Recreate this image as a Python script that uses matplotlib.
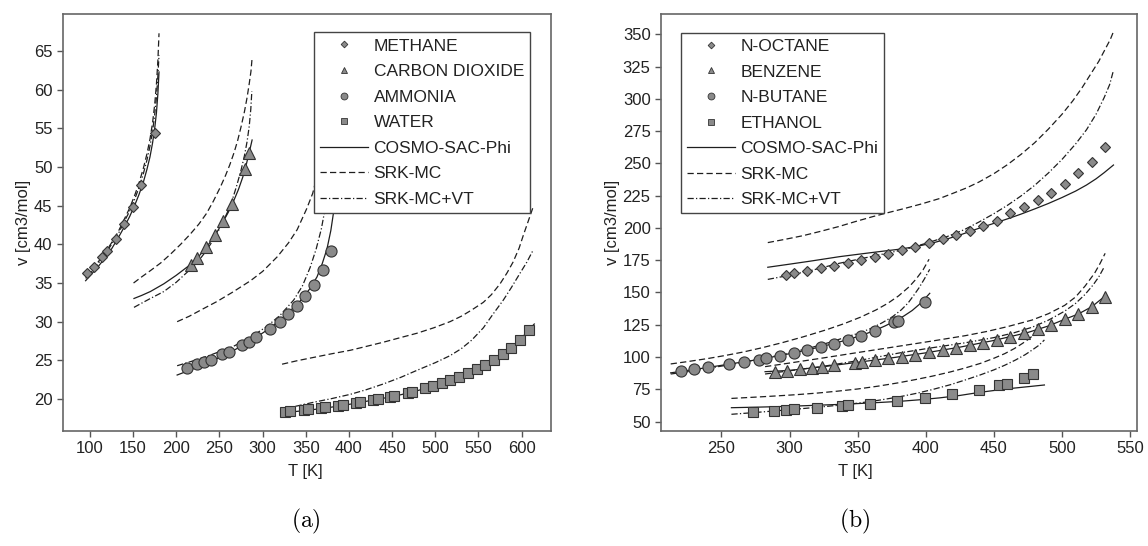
import numpy as np
import matplotlib.pyplot as plt
from matplotlib.lines import Line2D

plt.rcParams['font.family'] = ['Liberation Sans', 'DejaVu Sans']
plt.rcParams['mathtext.fontset'] = 'cm'

# ---------------- panel (a) ----------------
methane_exp = [(96.2, 36.25), (104.6, 37.1), (114.3, 38.4), (119.3, 39.2), (129.7, 40.7),
               (139.3, 42.6), (149.4, 44.8), (159.4, 47.7), (174.8, 54.4)]
methane_cosmo = [(95, 35.3), (103, 36.3), (110, 37.2), (118, 38.3), (125, 39.4), (133, 40.9),
                 (140, 42.3), (146, 43.6), (152, 45.1), (157, 46.5), (162, 48.1), (166, 49.7),
                 (169.5, 51.3), (172.5, 53.1), (175, 55.0), (177, 57.0), (178.7, 59.5), (180, 62.3)]
methane_srk = [(95, 35.8), (103, 36.8), (110, 37.8), (118, 39.0), (125, 40.2), (133, 41.7),
               (140, 43.3), (146, 44.7), (152, 46.4), (157, 48.0), (162, 49.9), (166, 51.7),
               (169.5, 53.6), (172.5, 55.7), (175, 58.1), (177, 60.7), (178.7, 63.8), (180, 67.3)]
methane_vt = [(95, 35.6), (103, 36.6), (110, 37.6), (118, 38.8), (125, 40.0), (133, 41.4),
              (140, 43.0), (146, 44.3), (152, 45.9), (157, 47.4), (162, 49.2), (166, 50.9),
              (169.5, 52.7), (172.5, 54.6), (175, 56.8), (177, 59.0), (178.7, 61.8), (180, 64.5)]

co2_exp = [(216.5, 37.33), (224.2, 38.3), (234.4, 39.7), (244.4, 41.2), (254.4, 43.0),
           (264.4, 45.2), (279.3, 49.7), (284.7, 51.85)]
co2_cosmo = [(151, 33.0), (160, 33.4), (170, 33.9), (185.6, 34.9), (200, 36.0), (216.5, 37.4),
             (225, 38.3), (234, 39.5), (244, 41.0), (254, 42.9), (260, 44.1), (266, 45.5),
             (272, 47.1), (277, 48.7), (281, 50.3), (284.5, 51.9), (287.8, 53.5)]
co2_srk = [(150.5, 35.0), (160, 35.8), (170, 36.6), (182, 37.6), (193, 38.7), (205, 40.0),
           (216, 41.3), (226, 42.6), (235, 44.0), (243, 45.6), (251, 47.4), (257, 48.9),
           (262, 50.3), (267, 51.9), (271, 53.4), (275, 55.2), (279, 57.2), (282, 59.0),
           (284.5, 60.8), (286.5, 62.4), (287.8, 64.1)]
co2_vt = [(151, 31.85), (160, 32.4), (170, 33.0), (185.6, 33.9), (200, 35.1), (216.5, 36.8),
          (226, 37.9), (235, 39.2), (244, 40.8), (252, 42.4), (259, 44.1), (265, 45.8),
          (270, 47.6), (275, 49.6), (279, 51.5), (282, 53.3), (284.5, 55.3), (286.3, 57.5),
          (287.5, 59.8)]

ammonia_exp = [(212.6, 23.97), (224.2, 24.5), (232.6, 24.8), (240.4, 25.0), (253.1, 25.8),
               (260.8, 26.1), (276.2, 27.0), (283.9, 27.4), (292.8, 28.0), (308.2, 29.1),
               (319.7, 30.0), (329.4, 30.95), (339.8, 32.0), (349.4, 33.3), (359.9, 34.8),
               (369.5, 36.7), (379.5, 39.1)]
ammonia_cosmo = [(201, 23.1), (215, 23.7), (230, 24.4), (245, 25.1), (260, 25.9), (275, 26.8),
                 (290, 27.8), (305, 28.9), (318, 30.0), (330, 31.2), (343.7, 32.7), (355, 34.3),
                 (363, 35.8), (369, 37.5), (374.5, 39.4), (379, 41.8), (383.3, 45.0), (386, 47.8),
                 (388.5, 51.0)]
ammonia_srk = [(201, 30.0), (215, 30.7), (230, 31.6), (247, 32.6), (265, 33.8), (286, 35.3),
               (300, 36.5), (317, 38.4), (330, 40.2), (340, 41.9), (351, 44.6), (358, 46.6),
               (364, 49.3), (369, 52.5)]
ammonia_vt = [(201, 24.3), (220, 24.95), (240, 25.7), (266, 26.8), (285, 27.9), (305, 29.4),
              (320, 30.8), (336, 32.8), (346, 34.6), (355, 37.0), (362, 39.4), (368, 42.0),
              (373, 45.0), (377, 48.5), (380, 52.0)]

water_exp = [(326.3, 18.36), (332.1, 18.45), (347.5, 18.58), (352.1, 18.67), (367.6, 18.83),
             (372.6, 18.92), (387.3, 19.09), (392.6, 19.18), (408.1, 19.44), (412.7, 19.57),
             (428.1, 19.87), (433.1, 20.0), (447.8, 20.26), (452.7, 20.45), (467.8, 20.8),
             (472.8, 20.93), (488.2, 21.38), (497.8, 21.72), (507.9, 22.04), (517.1, 22.43),
             (527.5, 22.88), (537.6, 23.32), (548.0, 23.84), (557.6, 24.39), (568.0, 25.04),
             (578.1, 25.78), (587.7, 26.63), (598.1, 27.63), (608.5, 28.92)]
water_cosmo = [(324.4, 18.2), (340, 18.4), (360, 18.65), (380, 18.95), (400, 19.3), (420, 19.7),
               (440, 20.1), (460, 20.55), (480, 21.1), (500, 21.75), (520, 22.5), (540, 23.4),
               (555, 24.2), (570, 25.2), (585, 26.4), (600, 27.9), (614.6, 29.7)]
water_srk = [(322.5, 24.5), (340, 24.95), (360, 25.4), (380, 25.85), (401.5, 26.3), (420, 26.8),
             (440, 27.35), (460, 27.95), (478.6, 28.5), (498, 29.2), (517, 30.0), (530, 30.7),
             (542, 31.5), (555.6, 32.5), (565, 33.5), (575, 34.9), (583, 36.3), (590, 37.7),
             (597, 39.5), (602, 41.2), (607, 42.8), (613.5, 44.9)]
water_vt = [(324.4, 18.8), (340, 19.1), (360, 19.6), (380, 20.05), (401.5, 20.6), (420, 21.2),
            (440, 21.95), (460, 22.8), (478.6, 23.7), (500, 24.7), (517, 25.6), (530, 26.5),
            (542, 27.6), (555.6, 29.2), (567, 31.0), (578.8, 32.8), (588, 34.4), (598, 36.25),
            (606, 37.7), (613.5, 39.3)]

# ---------------- panel (b) ----------------
octane_exp = [(297.6, 163.5), (302.9, 164.8), (312.9, 166.6), (322.9, 168.7), (332.9, 170.7),
              (342.9, 173.0), (352.7, 175.1), (362.7, 177.7), (372.6, 180.0), (382.4, 182.7),
              (392.4, 185.2), (402.4, 188.3), (412.4, 191.4), (422.2, 194.7), (432.2, 197.8),
              (442.1, 201.5), (452.2, 205.3), (462.2, 211.3), (471.9, 215.9), (482.2, 221.6),
              (491.9, 226.8), (501.9, 233.8), (511.7, 242.3), (521.7, 251.3), (531.7, 262.9)]
octane_cosmo = [(284, 169.5), (300, 171.9), (315, 174.2), (336.6, 177.7), (350, 179.5),
                (365, 181.5), (380, 183.4), (392.7, 185.5), (405, 188.3), (415, 191.2),
                (427, 195.2), (439, 199.7), (450, 203.5), (460, 207.0), (470, 210.7),
                (480, 214.7), (490, 218.9), (500, 223.5), (510, 228.5), (518, 233.2),
                (525, 238.0), (531, 242.8), (537.8, 248.7)]
octane_srk = [(284, 188.6), (297, 191.2), (310, 194.0), (323, 197.4), (336, 201.0), (348, 204.8),
              (361, 208.7), (373, 212.0), (385, 215.2), (397, 218.6), (409.7, 222.6), (420, 226.8),
              (430, 231.0), (439, 235.5), (450, 242.0), (460, 249.0), (470, 257.0), (480, 266.0),
              (490, 276.5), (500, 288.0), (508, 298.5), (515, 309.0), (521, 319.0), (527, 329.0),
              (532, 339.0), (535.5, 346.0), (537.8, 352.0)]
octane_vt = [(284, 160.1), (300, 163.3), (315, 166.8), (336.6, 172.6), (360, 177.8),
             (385.4, 183.5), (400, 188.0), (415, 193.0), (428, 198.5), (439, 204.5), (450, 211.0),
             (460, 217.5), (470, 224.8), (480, 233.0), (490, 242.5), (500, 253.0), (510, 265.0),
             (518, 276.0), (525, 288.0), (531, 301.0), (535, 311.0), (537.8, 322.0)]

benzene_exp = [(289, 88.6), (298, 89.4), (307.8, 90.5), (316.1, 91.7), (323.6, 92.5), (332.9, 93.8),
               (347.8, 95.6), (352.9, 96.4), (362.9, 97.7), (372.6, 99.0), (382.4, 100.2),
               (392.4, 101.8), (402.4, 103.6), (412.4, 105.2), (422.2, 107.2), (432.2, 109.0),
               (442.1, 111.1), (452.2, 113.4), (462.2, 115.7), (472.1, 118.3), (482.2, 121.4),
               (491.9, 124.8), (501.9, 129.2), (511.7, 133.3), (521.7, 138.9), (531.7, 146.7)]
benzene_cosmo = [(282, 88.6), (300, 89.6), (325, 92.5), (350, 95.9), (375, 99.3), (400, 103.2),
                 (425, 107.6), (450, 112.8), (475, 119.0), (490, 124.0), (502, 129.2),
                 (512, 133.3), (522, 139.0), (532, 147.5)]
benzene_srk = [(282, 92.5), (300, 95.3), (325, 99.3), (351, 103.6), (380, 108.3), (405, 112.4),
               (429, 116.5), (445, 119.8), (460, 123.5), (478, 128.6), (490, 133.5), (502, 140.0),
               (510, 146.5), (517, 155.0), (524, 165.0), (528, 172.5), (531.7, 180.3)]
benzene_vt = [(282, 86.8), (300, 89.3), (325, 92.8), (351, 97.3), (380, 103.0), (405, 107.2),
              (429, 111.0), (450, 115.0), (465, 118.8), (478, 123.0), (490, 128.5), (502, 135.5),
              (510, 141.5), (517, 148.5), (523, 156.0), (527, 162.0), (530.5, 168.7)]

butane_exp = [(220, 89.1), (230, 90.4), (240.2, 92.0), (255.6, 94.3), (266.5, 95.9), (277.3, 97.9),
              (282.9, 99.2), (293.2, 101.0), (303.1, 102.8), (312.9, 105.4), (322.9, 107.7),
              (332.9, 110.3), (342.9, 113.4), (352.7, 116.5), (362.7, 120.4), (377.0, 127.3),
              (379.5, 128.1), (399.3, 142.8)]
butane_cosmo = [(212.7, 87.7), (230, 90.3), (245, 92.7), (260, 95.2), (275, 97.7), (290, 100.5),
                (305, 103.6), (320, 107.2), (332, 110.3), (343, 113.5), (353, 116.8), (362, 120.3),
                (370, 124.0), (377, 127.6), (384, 131.8), (390, 136.0), (395, 140.5), (399, 144.8),
                (402.9, 149.3)]
butane_srk = [(212.7, 94.6), (225, 96.4), (240, 98.8), (253, 101.2), (265.8, 103.8), (280, 107.2),
              (295, 111.2), (310, 115.6), (326.8, 121.0), (340, 125.8), (352, 130.8),
              (363.4, 136.4), (372, 141.5), (380, 147.3), (387.8, 154.4), (393, 160.5),
              (398, 167.5), (402.4, 175.7)]
butane_vt = [(212.7, 86.8), (225, 88.6), (240, 91.2), (255, 93.8), (270, 96.6), (285, 99.8),
             (300, 103.2), (315, 107.0), (330, 111.5), (342, 115.6), (351, 118.5), (360, 122.2),
             (368, 126.5), (375.6, 131.2), (382, 136.5), (387, 141.8), (391, 147.5), (395, 153.5),
             (399, 160.5), (402.9, 167.9)]

ethanol_exp = [(273.1, 57.6), (288.3, 58.4), (297.6, 59.2), (302.9, 59.5), (320, 60.7),
               (338.5, 62.2), (342.9, 62.5), (359.2, 63.8), (379.2, 65.9), (399.3, 68.0),
               (419.2, 71.1), (439.2, 74.4), (453.9, 78.0), (459.3, 79.3), (472.4, 83.5),
               (479, 86.6)]
ethanol_cosmo = [(257.3, 60.7), (275, 61.1), (290, 61.5), (305, 62.0), (320, 62.6), (335, 63.2),
                 (350, 63.9), (365, 64.7), (380.4, 65.6), (395, 66.8), (410, 68.3), (425, 70.2),
                 (439, 72.5), (452, 74.3), (465, 75.9), (477, 77.2), (487.1, 78.3)]
ethanol_srk = [(257.3, 67.9), (275, 68.9), (290, 69.8), (305, 70.8), (320, 72.0), (335, 73.5),
               (350, 75.2), (365, 77.4), (380, 80.0), (393, 82.6), (405, 85.2), (418, 88.4),
               (429, 91.5), (440, 95.0), (450, 99.0), (458, 102.6), (465, 106.5), (471, 110.5),
               (475.5, 113.8), (479, 117.0)]
ethanol_vt = [(257.3, 55.6), (275, 57.0), (290, 58.3), (305, 59.6), (320, 61.0), (335, 62.5),
              (350, 64.2), (365, 66.4), (380, 69.0), (393, 71.8), (405, 74.8), (418, 78.5),
              (429, 82.2), (440, 86.1), (450, 90.0), (458, 93.6), (466, 97.7), (473, 101.8),
              (478, 105.3), (483, 109.0), (487.1, 113.2)]

names_a = ['METHANE', 'CARBON DIOXIDE', 'AMMONIA', 'WATER']
names_b = ['N-OCTANE', 'BENZENE', 'N-BUTANE', 'ETHANOL']
model_names = ['COSMO-SAC-Phi', 'SRK-MC', 'SRK-MC+VT']

markers = ['D', '^', 'o', 's']
msizes = [5.5, 8.0, 8.0, 7.5]
line_styles = ['-', (0, (5, 2.6)), (0, (5, 1.8, 1, 1.8))]
fill = '#8a8a8a'
edge = '#333333'
lcol = '#1e1e1e'
fs = 12

fig = plt.figure(figsize=(11.48, 5.46), dpi=100)
ax1 = fig.add_axes([0.05488, 0.2112, 0.4251, 0.7632])
ax2 = fig.add_axes([0.5758, 0.2112, 0.4144, 0.7632])

panel_a = [(methane_exp, methane_cosmo, methane_srk, methane_vt),
           (co2_exp, co2_cosmo, co2_srk, co2_vt),
           (ammonia_exp, ammonia_cosmo, ammonia_srk, ammonia_vt),
           (water_exp, water_cosmo, water_srk, water_vt)]
panel_b = [(octane_exp, octane_cosmo, octane_srk, octane_vt),
           (benzene_exp, benzene_cosmo, benzene_srk, benzene_vt),
           (butane_exp, butane_cosmo, butane_srk, butane_vt),
           (ethanol_exp, ethanol_cosmo, ethanol_srk, ethanol_vt)]


def draw(ax, panel, names):
    for i, group in enumerate(panel):
        exp = np.array(group[0])
        for j, curve in enumerate(group[1:]):
            c = np.array(curve)
            ax.plot(c[:, 0], c[:, 1], color=lcol, ls=line_styles[j], lw=0.9, zorder=2)
        ax.plot(exp[:, 0], exp[:, 1], ls='none', marker=markers[i], ms=msizes[i],
                mfc=fill, mec=edge, mew=0.8, zorder=3)
    handles = []
    for i, n in enumerate(names):
        handles.append(Line2D([], [], ls='none', marker=markers[i], ms=msizes[i] * 0.62,
                              mfc=fill, mec=edge, mew=0.6, label=n))
    for j, n in enumerate(model_names):
        handles.append(Line2D([], [], color=lcol, ls=line_styles[j], lw=0.9, label=n))
    return handles


def style(ax):
    for s in ax.spines.values():
        s.set_color('#666666')
        s.set_linewidth(1.2)
    ax.tick_params(direction='out', length=4, width=1, color='#555555',
                   labelsize=fs, labelcolor='#222222', top=False, right=False)
    ax.set_xlabel('T [K]', fontsize=fs, color='#222222')
    ax.set_ylabel('v [cm3/mol]', fontsize=fs, color='#222222', labelpad=2)


h1 = draw(ax1, panel_a, names_a)
h2 = draw(ax2, panel_b, names_b)

ax1.set_xlim(68.8, 634)
ax1.set_ylim(15.9, 69.8)
ax1.set_xticks(np.arange(100, 601, 50))
ax1.set_yticks(np.arange(20, 66, 5))
ax2.set_xlim(205.6, 554.9)
ax2.set_ylim(42.9, 365.7)
ax2.set_xticks(np.arange(250, 551, 50))
ax2.set_yticks(np.arange(50, 351, 25))
style(ax1)
style(ax2)
ax1.xaxis.set_label_coords(0.497, -0.08)
ax2.xaxis.set_label_coords(0.408, -0.08)

leg_kw = dict(fontsize=12.5, frameon=True, fancybox=False, framealpha=1, edgecolor='#444444',
              handlelength=2.8, handletextpad=0.3, labelspacing=0.6, borderpad=0.35,
              borderaxespad=0)
leg1 = ax1.legend(handles=h1, loc='upper right', bbox_to_anchor=(0.957, 0.956), **leg_kw)
leg2 = ax2.legend(handles=h2, loc='upper left', bbox_to_anchor=(0.041, 0.955), **leg_kw)
for lg in (leg1, leg2):
    lg.get_frame().set_linewidth(1.0)
    lg.set_zorder(5)
    for t in lg.get_texts():
        t.set_color('#222222')

fig.text(306 / 1148, 1 - 521 / 546, r'$\mathrm{(a)}$', fontsize=17, ha='center', va='center')
fig.text(855 / 1148, 1 - 521 / 546, r'$\mathrm{(b)}$', fontsize=17, ha='center', va='center')

fig.savefig('out.png', dpi=100)
